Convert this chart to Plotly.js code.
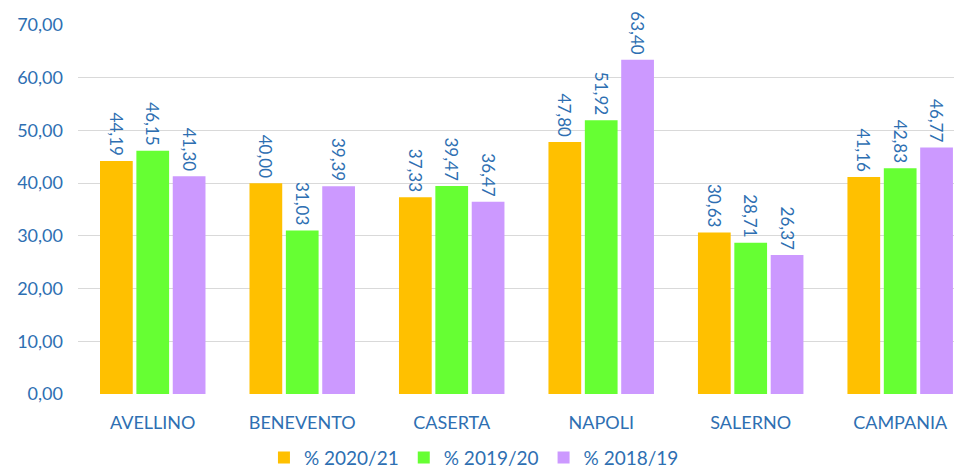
<!DOCTYPE html>
<html>
<head>
<meta charset="utf-8">
<script src="https://cdn.plot.ly/plotly-3.0.1.min.js"></script>
<style>html,body{margin:0;padding:0;background:#fff;}#chart{width:954px;height:468px;}</style>
</head>
<body>
<div id="chart"></div>
<script>
const categories = ["AVELLINO", "BENEVENTO", "CASERTA", "NAPOLI", "SALERNO", "CAMPANIA"];
const seriesNames = ["% 2020/21", "% 2019/20", "% 2018/19"];
const values2020_21 = [44.19, 40.00, 37.33, 47.80, 30.63, 41.16];
const values2019_20 = [46.15, 31.03, 39.47, 51.92, 28.71, 42.83];
const values2018_19 = [41.30, 39.39, 36.47, 63.40, 26.37, 46.77];
const colors = ["#FFC000", "#66FF33", "#CC99FF"];
const textBlue = "#2E6FB2";
const fontFam = "Lato, 'Open Sans', sans-serif";

const allValues = [values2020_21, values2019_20, values2018_19];
const traces = allValues.map((vals, i) => ({
  type: "bar",
  name: seriesNames[i],
  x: categories,
  y: vals,
  marker: {color: colors[i]},
  texttemplate: "%{y:.2f}\u2009",
  textposition: "outside",
  textangle: 90,
  constraintext: "none",
  cliponaxis: false,
  textfont: {family: fontFam, size: 17, color: textBlue},
  hoverinfo: "none"
}));

const layout = {
  width: 954, height: 468,
  margin: {l: 78, r: 0, t: 25, b: 74},
  separators: ",.",
  barmode: "group",
  bargap: 0.27,
  bargroupgap: 0.1,
  paper_bgcolor: "#fff",
  plot_bgcolor: "#fff",
  font: {family: fontFam, color: textBlue},
  xaxis: {
    range: [-0.5, 5.36],
    showgrid: false,
    showline: false,
    ticks: "",
    tickfont: {family: fontFam, size: 18, color: textBlue},
    ticklabelstandoff: 16
  },
  yaxis: {
    range: [0, 70],
    dtick: 10,
    tickformat: ".2f",
    showgrid: true,
    gridcolor: "#D9D9D9",
    gridwidth: 1,
    zeroline: false,
    showline: false,
    ticks: "",
    ticklabelstandoff: 14,
    tickfont: {family: fontFam, size: 18, color: textBlue}
  },
  showlegend: true,
  legend: {
    orientation: "h",
    x: 0.452, xanchor: "center", xref: "paper",
    yref: "container",
    y: 0.022, yanchor: "middle",
    font: {family: fontFam, size: 19, color: textBlue},
    itemwidth: 30,
    tracegroupgap: 0,
    traceorder: "normal"
  }
};

Plotly.newPlot("chart", traces, layout, {displayModeBar: false, staticPlot: true});
</script>
</body>
</html>
